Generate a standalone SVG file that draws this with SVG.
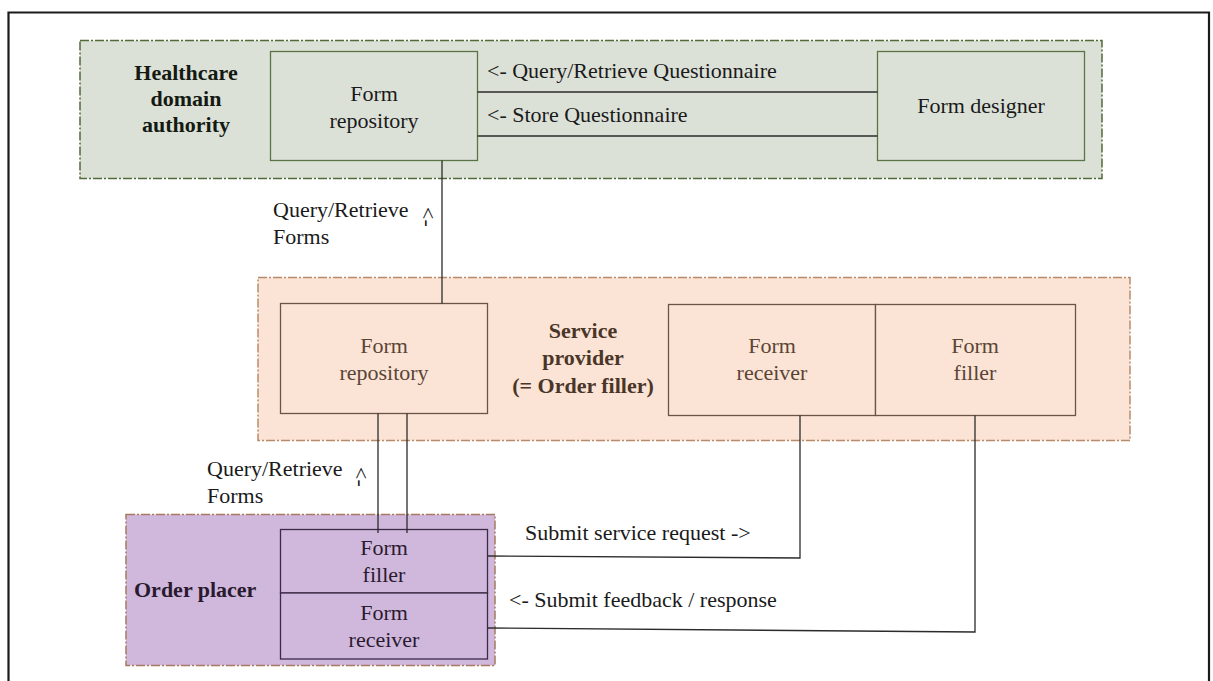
<svg xmlns="http://www.w3.org/2000/svg" width="1213" height="681" viewBox="0 0 1213 681">
  <defs>
    <marker id="unused" markerWidth="1" markerHeight="1"/>
  </defs>
  <rect width="1213" height="681" fill="#ffffff"/>
  <path d="M8.5,700 V12.5 H1209 V700" fill="none" stroke="#1a1a1a" stroke-width="2.2"/>

  <g font-family="Liberation Serif" font-size="22">
  <g id="healthcare-domain-authority">
    <rect x="80" y="40.5" width="1022" height="138" fill="#dce1d8" stroke="#4f6b3a" stroke-width="1.5" stroke-dasharray="9 2 2 2"/>
    <g font-weight="bold" text-anchor="middle" fill="#141a12">
      <text x="186" y="80">Healthcare</text>
      <text x="186" y="106">domain</text>
      <text x="186" y="132">authority</text>
    </g>
  </g>
  <g id="hda-form-repository">
    <rect x="270.5" y="51.5" width="207" height="109" fill="#dce1d8" stroke="#5a7445" stroke-width="1.3"/>
    <g text-anchor="middle" fill="#1a1a1a">
      <text x="374" y="101">Form</text>
      <text x="374" y="128">repository</text>
    </g>
  </g>
  <g id="form-designer">
    <rect x="877.5" y="51.5" width="207" height="109" fill="#dce1d8" stroke="#5a7445" stroke-width="1.3"/>
    <text x="981" y="113" text-anchor="middle" fill="#1a1a1a">Form designer</text>
  </g>

  <g id="service-provider">
    <rect x="258" y="277.5" width="872" height="163" fill="#fbe4d6" stroke="#b98a6a" stroke-width="1.5" stroke-dasharray="9 2 2 2"/>
    <g font-weight="bold" text-anchor="middle" fill="#4a3628">
      <text x="583" y="338">Service</text>
      <text x="583" y="365">provider</text>
      <text x="583" y="393">(= Order filler)</text>
    </g>
  </g>
  <g id="sp-form-repository">
    <rect x="280.5" y="303.5" width="207" height="110" fill="#fbe4d6" stroke="#6b5444" stroke-width="1.3"/>
    <g text-anchor="middle" fill="#5a4535">
      <text x="384" y="353">Form</text>
      <text x="384" y="380">repository</text>
    </g>
  </g>
  <g id="sp-form-receiver">
    <rect x="668.5" y="304.5" width="207" height="111" fill="#fbe4d6" stroke="#6b5444" stroke-width="1.3"/>
    <g text-anchor="middle" fill="#5a4535">
      <text x="772" y="353">Form</text>
      <text x="772" y="380">receiver</text>
    </g>
  </g>
  <g id="sp-form-filler">
    <rect x="875.5" y="304.5" width="200" height="111" fill="#fbe4d6" stroke="#6b5444" stroke-width="1.3"/>
    <g text-anchor="middle" fill="#5a4535">
      <text x="975" y="353">Form</text>
      <text x="975" y="380">filler</text>
    </g>
  </g>

  <g id="order-placer">
    <rect x="126" y="514.5" width="369" height="151" fill="#d0b8dc" stroke="#a57a60" stroke-width="1.5" stroke-dasharray="9 2 2 2"/>
    <text x="134" y="597" font-weight="bold" fill="#2a1a30">Order placer</text>
  </g>
  <g id="op-form-filler">
    <rect x="280.5" y="529.5" width="207" height="63.5" fill="#d0b8dc" stroke="#3a2a45" stroke-width="1.3"/>
    <g text-anchor="middle" fill="#2a1a30">
      <text x="384" y="555">Form</text>
      <text x="384" y="582">filler</text>
    </g>
  </g>
  <g id="op-form-receiver">
    <rect x="280.5" y="593" width="207" height="66" fill="#d0b8dc" stroke="#3a2a45" stroke-width="1.3"/>
    <g text-anchor="middle" fill="#2a1a30">
      <text x="384" y="620">Form</text>
      <text x="384" y="647">receiver</text>
    </g>
  </g>

  <g id="connectors" fill="#1a1a1a">
    <g fill="none" stroke="#2b2b2b" stroke-width="1.3">
      <line x1="477.5" y1="92" x2="877.5" y2="92"/>
      <line x1="477.5" y1="136" x2="877.5" y2="136"/>
      <line x1="442" y1="160.5" x2="442" y2="303.5"/>
      <line x1="378" y1="413.5" x2="378" y2="533"/>
      <line x1="407" y1="413.5" x2="407" y2="533"/>
      <polyline points="487.5,556 800,558 800,415.5"/>
      <polyline points="487.5,628 975,632 975,415.5"/>
    </g>
    <text x="487" y="78">&lt;- Query/Retrieve Questionnaire</text>
    <text x="487" y="122">&lt;- Store Questionnaire</text>
    <text x="273" y="217">Query/Retrieve</text>
    <text x="273" y="244">Forms</text>
    <text transform="translate(421,207) rotate(90)" x="0" y="0">&lt;-</text>
    <text x="207" y="476">Query/Retrieve</text>
    <text x="207" y="503">Forms</text>
    <text transform="translate(354,467) rotate(90)" x="0" y="0">&lt;-</text>
    <text x="525" y="540">Submit  service request -&gt;</text>
    <text x="509" y="607">&lt;- Submit  feedback / response</text>
  </g>
  </g>
</svg>
